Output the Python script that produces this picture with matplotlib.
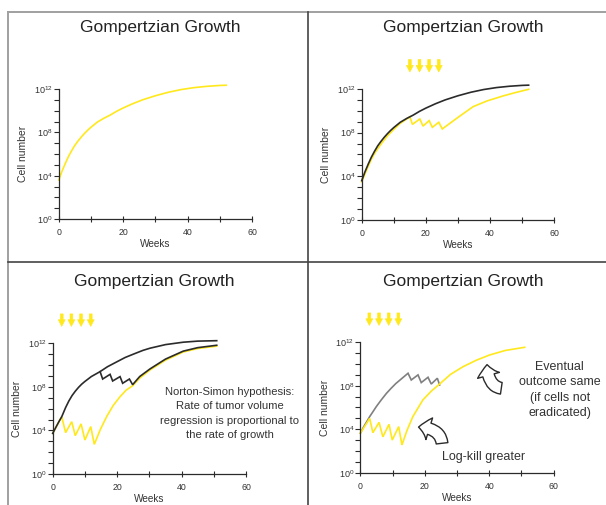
import numpy as np
import matplotlib
matplotlib.use('Agg')
import matplotlib.pyplot as plt
from matplotlib.lines import Line2D
from matplotlib.patches import FancyArrowPatch

plt.rcParams['font.family'] = ['Liberation Sans', 'DejaVu Sans']
plt.rcParams['mathtext.default'] = 'regular'

YELLOW = '#ffe81c'
DARK = '#2b2b2b'
GREY = '#808080'

# --- untreated gompertzian growth (log10 of cell number) ---
weeks_gomp = [0, 1, 2, 3, 4, 5, 6, 7, 8, 9, 10, 12, 14, 15, 16, 18, 20, 23, 26, 30,
              34, 38, 42, 46, 50, 52]
log_gomp = [3.6, 4.4, 5.1, 5.75, 6.3, 6.8, 7.2, 7.57, 7.9, 8.2, 8.47, 8.95, 9.3, 9.45,
            9.6, 9.95, 10.25, 10.65, 11.0, 11.38, 11.7, 11.95, 12.13, 12.25, 12.33, 12.35]

# --- late treatment (panel 2) ---
weeks_late = [0, 1, 2, 3, 4, 6, 8, 10, 12, 15, 15.8, 18.1, 19.1, 21, 22, 24, 25.1,
              30, 34.7, 39, 44, 48, 52]
log_late = [3.5, 4.2, 4.9, 5.55, 6.1, 6.95, 7.7, 8.3, 8.85, 9.45, 8.76, 9.25, 8.6, 9.1,
            8.49, 8.95, 8.34, 9.4, 10.38, 10.9, 11.36, 11.68, 11.97]
late_doses = [15, 18, 21, 24]

# --- early treatment, Norton-Simon (panel 3) ---
weeks_ns_top = [0, 1, 2, 2.8, 4, 5, 6, 7, 8, 9, 10, 12, 14.7, 17, 19.9, 22.5, 25, 28,
                30.2, 35, 40.5, 45, 50.9]
log_ns_top = [3.73, 4.3, 4.85, 5.26, 6.1, 6.7, 7.2, 7.6, 7.95, 8.25, 8.5, 8.95, 9.4,
              9.85, 10.3, 10.7, 11.0, 11.35, 11.55, 11.88, 12.1, 12.2, 12.24]
weeks_ns_zig = [14.7, 15.5, 17.8, 18.6, 20.9, 21.7, 23.8, 24.8, 27, 30.2, 35, 40.5, 45, 50.9]
log_ns_zig = [9.4, 8.72, 9.15, 8.54, 8.94, 8.33, 8.72, 8.2, 8.95, 9.65, 10.55, 11.28, 11.6, 11.82]
weeks_ns_early = [0, 2.8, 4, 5.9, 7, 8.8, 10, 11.8, 12.9, 14.8, 16.8, 18.8, 20.9, 22.8,
                  24.8, 27, 30.2, 35, 40.5, 45, 50.9]
log_ns_early = [3.73, 5.26, 3.8, 4.8, 3.52, 4.6, 3.12, 4.35, 2.72, 4.1, 5.3, 6.3, 7.1, 7.7,
                8.1, 8.8, 9.55, 10.45, 11.2, 11.52, 11.74]
early_doses = [2.8, 5.8, 8.8, 11.8]

# --- log-kill comparison (panel 4) ---
weeks_lk_late = [0, 1, 2, 2.9, 4, 5, 6.5, 8.1, 9.5, 11, 13, 14.8, 15.8, 17.9, 18.9, 21,
                 22, 23.9, 24.6]
log_lk_late = [3.62, 4.2, 4.7, 5.16, 5.65, 6.1, 6.7, 7.3, 7.75, 8.2, 8.7, 9.15, 8.53,
               9.0, 8.29, 8.78, 8.16, 8.69, 8.07]
weeks_lk_early = [0, 2.9, 3.9, 5.8, 7, 8.9, 9.9, 11.9, 12.9, 14.5, 16.3, 19.4, 22, 24.6,
                  28, 31.9, 36, 40.1, 45, 51]
log_lk_early = [3.62, 5.0, 3.68, 4.63, 3.3, 4.45, 3.0, 4.24, 2.55, 3.9, 5.16, 6.69, 7.5,
                8.16, 9.05, 9.76, 10.35, 10.83, 11.25, 11.54]

ns_text = 'Norton-Simon hypothesis:\nRate of tumor volume\nregression is proportional to\nthe rate of growth'
outcome_text = 'Eventual\noutcome same\n(if cells not\neradicated)'


def cells(logs):
    return 10.0 ** np.array(logs)


def setup(ax):
    ax.set_yscale('log')
    ax.set_xlim(0, 60)
    ax.set_ylim(1, 1e12)
    ax.spines['top'].set_visible(False)
    ax.spines['right'].set_visible(False)
    for s in ('left', 'bottom'):
        ax.spines[s].set_color(DARK)
        ax.spines[s].set_linewidth(0.9)
    ax.set_xticks([0, 20, 40, 60])
    ax.set_xticks([10, 30, 50], minor=True)
    ax.set_yticks([10.0 ** k for k in range(0, 13, 4)])
    ax.set_yticks([10.0 ** k for k in range(13)], minor=True)
    ax.set_yticklabels(['$10^{%d}$' % k for k in range(0, 13, 4)])
    ax.yaxis.set_minor_formatter(plt.NullFormatter())
    ax.tick_params(axis='x', which='both', direction='inout', length=5, width=0.8,
                   color=DARK, labelsize=6.3, pad=4, labelcolor='#333')
    ax.tick_params(axis='y', which='both', direction='out', length=3.4, width=0.8,
                   color=DARK, labelsize=6.5, pad=1, labelcolor='#333')
    ax.set_xlabel('Weeks', fontsize=7.2, labelpad=1.5, color='#333')
    ax.set_ylabel('Cell number', fontsize=7.5, labelpad=4, color='#333')
    ax.patch.set_alpha(0)


def doses(ax, times):
    for d in times:
        ax.annotate('', xy=(d, 10 ** 13.55), xytext=(d, 10 ** 14.7),
                    arrowprops=dict(arrowstyle='simple,head_length=0.48,head_width=0.5,tail_width=0.2',
                                    fc=YELLOW, ec=YELLOW, lw=0.4, shrinkA=0, shrinkB=0),
                    annotation_clip=False)


def curve(ax, x, y, color):
    ax.plot(x, cells(y), color=color, lw=1.2, clip_on=False, solid_joinstyle='miter')


fig = plt.figure(figsize=(6.06, 5.05), dpi=100)

ax1 = fig.add_axes([0.0969, 0.5663, 0.319, 0.2574])
ax2 = fig.add_axes([0.5969, 0.5644, 0.3178, 0.2594])
ax3 = fig.add_axes([0.0870, 0.0614, 0.319, 0.2588])
ax4 = fig.add_axes([0.5946, 0.0640, 0.3191, 0.2582])
for ax in (ax1, ax2, ax3, ax4):
    setup(ax)

# panel 1
curve(ax1, weeks_gomp, log_gomp, YELLOW)

# panel 2
curve(ax2, weeks_late, log_late, YELLOW)
curve(ax2, weeks_gomp, log_gomp, DARK)
doses(ax2, late_doses)

# panel 3
curve(ax3, weeks_ns_early, log_ns_early, YELLOW)
curve(ax3, weeks_ns_top, log_ns_top, DARK)
curve(ax3, weeks_ns_zig, log_ns_zig, DARK)
doses(ax3, early_doses)
ax3.text(55, 10 ** 5.55, ns_text, ha='center', va='center', fontsize=8.1,
         linespacing=1.55, color='#333', clip_on=False)

# panel 4
curve(ax4, weeks_lk_late, log_lk_late, GREY)
curve(ax4, weeks_lk_early, log_lk_early, YELLOW)
doses(ax4, early_doses)
hollow = dict(arrowstyle='simple,head_length=0.6,head_width=1.25,tail_width=0.65',
              mutation_scale=13, fc='white', ec=DARK, lw=1.0, clip_on=False)
ax4.add_patch(FancyArrowPatch((44.6, 10 ** 7.75), (39.3, 10 ** 10.2),
                              connectionstyle='angle3,angleA=180,angleB=90', **hollow))
ax4.add_patch(FancyArrowPatch((25.4, 10 ** 2.45), (17.2, 10 ** 4.2),
                              connectionstyle='angle3,angleA=90,angleB=0', **hollow))
ax4.text(61.9, 10 ** 7.6, outcome_text, ha='center', va='center', fontsize=9,
         linespacing=1.4, color='#333', clip_on=False)
ax4.text(38.1, 10 ** 1.47, 'Log-kill greater', ha='center', va='center', fontsize=9,
         color='#333', clip_on=False)

# panel titles
for x, y in [(0.264, 0.9465), (0.764, 0.9465), (0.254, 0.4416), (0.764, 0.4416)]:
    fig.text(x, y, 'Gompertzian Growth', ha='center', va='center', fontsize=12.5, color='#222')

# frame lines between the panels
W, H = 606.0, 505.0
fig.add_artist(Line2D([8 / W, 1], [1 - 12.3 / H] * 2, color='#a0a0a0', lw=1.4))
fig.add_artist(Line2D([8 / W] * 2, [0, 1 - 12.3 / H], color='#a0a0a0', lw=1.4))
fig.add_artist(Line2D([308.3 / W] * 2, [0, 1 - 12.3 / H], color='#444', lw=1.2))
fig.add_artist(Line2D([8 / W, 1], [1 - 261.7 / H] * 2, color='#444', lw=1.2))

fig.savefig('out.png', dpi=100)
